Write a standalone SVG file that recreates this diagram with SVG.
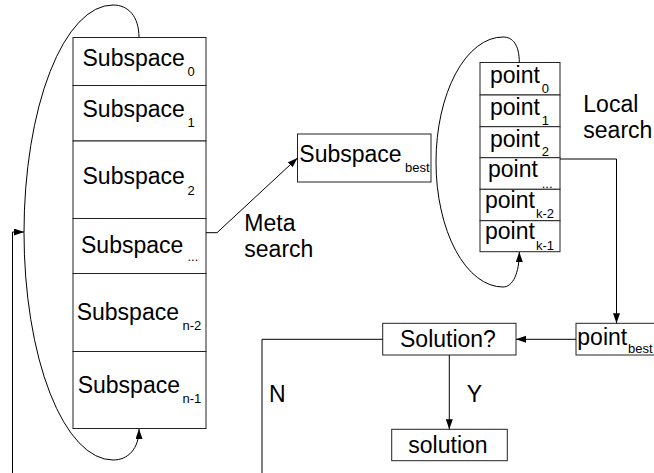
<svg xmlns="http://www.w3.org/2000/svg" width="654" height="473" viewBox="0 0 654 473">
  <style>
    .box { fill: #fff; stroke: #222; stroke-width: 1; }
    .wire { fill: none; stroke: #000; stroke-width: 1; }
    text { font-family: "Liberation Sans", Arial, sans-serif; font-size: 23px; fill: #000; }
    .sub { font-size: 13px; }
  </style>
  <defs>
    <marker id="arrow" markerUnits="userSpaceOnUse" markerWidth="10" markerHeight="8" refX="10" refY="3.5" orient="auto">
      <path d="M0,0 L10,3.5 L0,7 z" fill="#000"/>
    </marker>
  </defs>

  <rect width="654" height="473" fill="#fff"/>

  <!-- subspace stack -->
  <g id="subspace-0">
    <rect class="box" x="73" y="37.5" width="133" height="48"/>
    <text x="82.5" y="66">Subspace</text>
    <text class="sub" x="187.5" y="76">0</text>
  </g>
  <g id="subspace-1">
    <rect class="box" x="73" y="85.5" width="133" height="55.5"/>
    <text x="82.5" y="117">Subspace</text>
    <text class="sub" x="187.5" y="127">1</text>
  </g>
  <g id="subspace-2">
    <rect class="box" x="73" y="141" width="133" height="77.5"/>
    <text x="82.5" y="184">Subspace</text>
    <text class="sub" x="187.5" y="195">2</text>
  </g>
  <g id="subspace-mid">
    <rect class="box" x="73" y="218.5" width="133" height="55"/>
    <text x="81" y="252.7">Subspace</text>
    <text class="sub" x="187.5" y="261">...</text>
  </g>
  <g id="subspace-n-2">
    <rect class="box" x="73" y="273.5" width="133" height="78"/>
    <text x="76.7" y="320">Subspace</text>
    <text class="sub" x="182.5" y="330">n-2</text>
  </g>
  <g id="subspace-n-1">
    <rect class="box" x="73" y="351.5" width="133" height="77"/>
    <text x="77.7" y="393.3">Subspace</text>
    <text class="sub" x="182.5" y="403">n-1</text>
  </g>

  <!-- best subspace -->
  <g id="subspace-best">
    <rect class="box" x="297.5" y="134" width="133.5" height="48"/>
    <text x="299.3" y="162.3">Subspace</text>
    <text class="sub" x="405" y="172.3">best</text>
  </g>

  <!-- point stack -->
  <g id="point-0">
    <rect class="box" x="480" y="62.5" width="80" height="32.5"/>
    <text x="490" y="83">point</text>
    <text class="sub" x="541.7" y="93">0</text>
  </g>
  <g id="point-1">
    <rect class="box" x="480" y="95" width="80" height="31.7"/>
    <text x="490" y="115">point</text>
    <text class="sub" x="541.7" y="125">1</text>
  </g>
  <g id="point-2">
    <rect class="box" x="480" y="126.7" width="80" height="31"/>
    <text x="490" y="146.7">point</text>
    <text class="sub" x="541.7" y="155.5">2</text>
  </g>
  <g id="point-mid">
    <rect class="box" x="480" y="157.7" width="80" height="31.6"/>
    <text x="488" y="176.7">point</text>
    <text class="sub" x="541.7" y="188">...</text>
  </g>
  <g id="point-k-2">
    <rect class="box" x="480" y="189.3" width="80" height="31.4"/>
    <text x="485" y="208.3">point</text>
    <text class="sub" x="536" y="218.3">k-2</text>
  </g>
  <g id="point-k-1">
    <rect class="box" x="480" y="220.7" width="80" height="31"/>
    <text x="485" y="239.3">point</text>
    <text class="sub" x="536" y="250">k-1</text>
  </g>

  <g id="point-best">
    <rect class="box" x="576" y="323.3" width="90" height="31.7"/>
    <text x="577.3" y="345">point</text>
    <text class="sub" x="628" y="353.3">best</text>
  </g>

  <g id="solution-check">
    <rect class="box" x="382.7" y="323.3" width="133.3" height="31.7"/>
    <text x="400" y="347.3">Solution?</text>
  </g>

  <g id="solution">
    <rect class="box" x="391.7" y="429.3" width="115.6" height="31.4"/>
    <text x="408.3" y="452.7">solution</text>
  </g>

  <!-- labels -->
  <g id="labels">
    <text x="244.3" y="231">Meta</text>
    <text x="244.3" y="256.7">search</text>
    <text x="583.3" y="112">Local</text>
    <text x="583.3" y="138">search</text>
    <text x="466.7" y="401.7">Y</text>
    <text x="269" y="401.7">N</text>
  </g>

  <!-- connectors -->
  <g id="connectors" class="wire">
    <path class="wire" d="M139,37.5 C139,16 128,5 113,5 A89,227.5 0 0 0 113,460 C128,460 139,449 139,429" marker-end="url(#arrow)"/>
    <path class="wire" d="M12.5,473 V232 H24" marker-end="url(#arrow)"/>
    <path class="wire" d="M206,232.7 H217 L297.5,158" marker-end="url(#arrow)"/>
    <path class="wire" d="M519.3,62.5 C519.3,45 513,37 503,37 A67,125 0 0 0 503,287 C513,287 519.3,273 519.3,252" marker-end="url(#arrow)"/>
    <path class="wire" d="M560,159 H616.5 V323.3" marker-end="url(#arrow)"/>
    <path class="wire" d="M576,339.3 H516" marker-end="url(#arrow)"/>
    <path class="wire" d="M449.3,355 V429.3" marker-end="url(#arrow)"/>
    <path class="wire" d="M382.7,339.3 H262 V473"/>
  </g>
</svg>
